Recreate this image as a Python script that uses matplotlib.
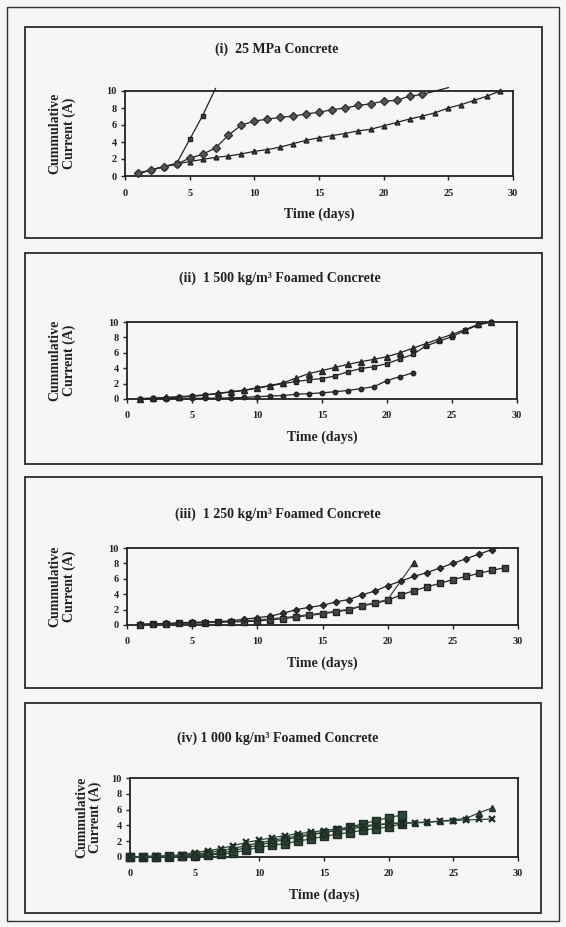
import matplotlib
matplotlib.use("Agg")
import matplotlib.pyplot as plt
from matplotlib.patches import Rectangle

# ---------------- data ----------------
titles = ["(i)  25 MPa Concrete",
          "(ii)  1 500 kg/m³ Foamed Concrete",
          "(iii)  1 250 kg/m³ Foamed Concrete",
          "(iv) 1 000 kg/m³ Foamed Concrete"]
ylabel_text = "Cummulative\nCurrent (A)"
xlabel_text = "Time (days)"
xticks = [0, 5, 10, 15, 20, 25, 30]
yticks = [0, 2, 4, 6, 8, 10]

# panel (i)
p1_days_diam = list(range(1, 26))
p1_diam = [0.3, 0.7, 1.1, 1.4, 2.1, 2.55, 3.3, 4.8, 6.0, 6.45, 6.7, 6.9, 7.05, 7.3,
           7.5, 7.8, 8.0, 8.3, 8.5, 8.8, 8.9, 9.4, 9.6, 10.0, 10.4]
p1_days_sq = [1, 2, 3, 4, 5, 6, 7]
p1_sq = [0.3, 0.7, 1.1, 1.5, 4.3, 7.1, 10.3]
p1_days_tri = list(range(1, 30))
p1_tri = [0.3, 0.7, 1.1, 1.4, 1.7, 1.95, 2.2, 2.35, 2.6, 2.9, 3.1, 3.4, 3.8, 4.2,
          4.5, 4.75, 5.0, 5.3, 5.5, 5.9, 6.3, 6.7, 7.05, 7.45, 8.0, 8.4, 8.9, 9.4, 10.0]

# panel (ii)
p2_days = list(range(1, 29))
p2_tri = [0.05, 0.1, 0.2, 0.3, 0.4, 0.55, 0.75, 0.95, 1.15, 1.45, 1.75, 2.1, 2.7, 3.3,
          3.7, 4.1, 4.5, 4.85, 5.15, 5.5, 6.0, 6.6, 7.2, 7.8, 8.4, 9.0, 9.7, 10.0]
p2_sq = [0.05, 0.1, 0.15, 0.25, 0.35, 0.5, 0.7, 0.9, 1.1, 1.4, 1.7, 2.0, 2.25, 2.5,
         2.65, 3.0, 3.55, 3.95, 4.2, 4.6, 5.2, 5.8, 6.9, 7.5, 8.1, 8.9, 9.6, 10.0]
p2_days_circ = list(range(1, 23))
p2_circ = [0.02, 0.04, 0.05, 0.07, 0.08, 0.1, 0.12, 0.15, 0.2, 0.3, 0.38, 0.45, 0.6,
           0.7, 0.8, 0.95, 1.1, 1.35, 1.6, 2.4, 2.9, 3.4]

# panel (iii)
p3_days_diam = list(range(1, 30))
p3_diam = [0.1, 0.15, 0.2, 0.3, 0.35, 0.4, 0.45, 0.55, 0.75, 0.95, 1.15, 1.55, 2.0,
           2.3, 2.55, 3.0, 3.3, 3.9, 4.4, 5.1, 5.7, 6.3, 6.8, 7.4, 8.0, 8.6, 9.2, 9.8, 10.4]
p3_days_sq = list(range(1, 30))
p3_sq = [0.05, 0.1, 0.15, 0.2, 0.25, 0.3, 0.35, 0.4, 0.45, 0.5, 0.7, 0.8, 1.05, 1.25,
         1.45, 1.7, 1.95, 2.45, 2.8, 3.2, 3.9, 4.45, 4.95, 5.4, 5.9, 6.3, 6.7, 7.1, 7.45]
p3_days_tri = list(range(1, 23))
p3_tri = [0.05, 0.1, 0.15, 0.2, 0.25, 0.3, 0.4, 0.45, 0.55, 0.65, 0.8, 0.95, 1.15,
          1.35, 1.55, 1.8, 2.05, 2.5, 2.9, 3.3, 5.7, 8.1]

# panel (iv)
p4_days_a = list(range(0, 22))
p4_sq_a = [0, 0, 0.05, 0.1, 0.15, 0.2, 0.35, 0.5, 0.8, 1.2, 1.5, 1.9, 2.2, 2.5, 2.8,
           3.1, 3.4, 3.8, 4.2, 4.6, 5.0, 5.3]
p4_days_b = list(range(0, 22))
p4_sq_b = [0, 0, 0, 0.05, 0.1, 0.15, 0.25, 0.35, 0.5, 0.9, 1.2, 1.5, 1.7, 2.0, 2.3,
           2.6, 2.9, 3.1, 3.4, 3.6, 3.8, 4.2]
p4_days_t = list(range(0, 29))
p4_tri = [0, 0.05, 0.1, 0.1, 0.2, 0.35, 0.55, 0.8, 1.1, 1.45, 1.8, 2.1, 2.4, 2.65, 2.9,
          3.1, 3.35, 3.55, 3.8, 4.0, 4.2, 4.3, 4.35, 4.45, 4.55, 4.7, 4.9, 5.6, 6.2]
p4_days_x = list(range(0, 29))
p4_x = [0, 0.05, 0.1, 0.15, 0.3, 0.55, 0.8, 1.05, 1.45, 1.85, 2.15, 2.45, 2.7, 2.95,
        3.15, 3.35, 3.55, 3.75, 3.95, 4.1, 4.25, 4.3, 4.3, 4.4, 4.5, 4.6, 4.7, 4.75, 4.8]

# ---------------- layout ----------------
W, H = 566, 927
BG = "#f6f6f4"
INK = "#222222"
GREEN = "#2f4539"
SERIF = ["Liberation Serif", "DejaVu Serif"]

fig = plt.figure(figsize=(W / 100, H / 100), dpi=100, facecolor=BG)


def fx(px):
    return px / W


def fy(py):
    return 1 - py / H


def add_axes(l, r, t, b):
    ax = fig.add_axes([fx(l), fy(b), fx(r - l), (b - t) / H])
    ax.set_facecolor("none")
    return ax


# outer page frame
fig.patches.append(Rectangle((fx(7), fy(921)), fx(552), (921 - 7) / H,
                             transform=fig.transFigure, fill=False,
                             edgecolor="#333333", linewidth=1.0))

boxes = [(25, 542, 27, 238), (25, 542, 253, 464), (25, 542, 477, 688), (25, 541, 703, 913)]
for (l, r, t, b) in boxes:
    fig.patches.append(Rectangle((fx(l), fy(b)), fx(r - l), (b - t) / H,
                                 transform=fig.transFigure, fill=False,
                                 edgecolor="#2a2a2a", linewidth=1.3))

axes_px = [(125, 513, 91, 176), (127, 517, 322, 399), (127, 518, 548, 625), (130, 518, 778, 857)]
title_y = [49, 278, 514, 738]
title_x = [277, 280, 278, 278]
ylab_x = [62, 62, 62, 89]

axs = []
for i, (l, r, t, b) in enumerate(axes_px):
    ax = add_axes(l, r, t, b)
    ax.set_xlim(0, 30)
    ax.set_ylim(0, 10)
    ax.set_xticks(xticks)
    ax.set_yticks(yticks)
    ax.tick_params(direction="out", length=3, width=1, color=INK, labelsize=7.5)
    ax.tick_params(axis="x", pad=6)
    ax.tick_params(axis="y", pad=3)
    for lab in ax.get_xticklabels() + ax.get_yticklabels():
        lab.set_fontfamily(SERIF)
        lab.set_fontweight("bold")
        lab.set_color(INK)
    for s in ax.spines.values():
        s.set_color(INK)
        s.set_linewidth(1.3)
    ax.set_xlabel(xlabel_text, fontsize=10, fontweight="bold", family=SERIF,
                  color=INK, labelpad=7)
    fig.text(fx(title_x[i]), fy(title_y[i]), titles[i], ha="center", va="center",
             fontsize=10, fontweight="bold", family=SERIF, color=INK)
    fig.text(fx(ylab_x[i]), fy((t + b) / 2), ylabel_text, ha="center", va="center",
             rotation=90, fontsize=10, fontweight="bold", family=SERIF, color=INK,
             multialignment="center", linespacing=1.05)
    axs.append(ax)

lw = 0.9
# panel (i)
ax = axs[0]
ax.plot(p1_days_sq, p1_sq, color=INK, lw=lw, marker="s", ms=3.5, mfc="#444444",
        mec=INK, markevery=list(range(6)), clip_on=False, zorder=3)
ax.plot(p1_days_tri, p1_tri, color=INK, lw=lw, marker="^", ms=3.5, mfc="#444444",
        mec=INK, clip_on=False, zorder=3)
ax.plot(p1_days_diam, p1_diam, color=INK, lw=lw, marker="D", ms=4.3, mfc="#555555",
        mec="#333333", mew=1.0, markevery=list(range(23)), clip_on=False, zorder=4)

# panel (ii)
ax = axs[1]
ax.plot(p2_days_circ, p2_circ, color=INK, lw=lw, marker="o", ms=3.2, mfc="#333333",
        mec=INK, clip_on=False, zorder=3)
ax.plot(p2_days, p2_sq, color=INK, lw=lw, marker="s", ms=3.5, mfc="#444444",
        mec=INK, clip_on=False, zorder=3)
ax.plot(p2_days, p2_tri, color=INK, lw=lw, marker="^", ms=3.8, mfc="#333333",
        mec=INK, clip_on=False, zorder=3)

# panel (iii)
ax = axs[2]
ax.plot(p3_days_sq, p3_sq, color=INK, lw=lw, marker="s", ms=3.8, mfc="#444444",
        mec=INK, clip_on=False, zorder=3)
ax.plot(p3_days_tri, p3_tri, color="#444444", lw=lw, marker="^", ms=4, mfc="#444444",
        mec=INK, markevery=[21], clip_on=False, zorder=3)
ax.plot(p3_days_diam, p3_diam, color=INK, lw=lw, marker="D", ms=3.2, mfc="#333333",
        mec=INK, markevery=list(range(28)), zorder=3)

# panel (iv)
ax = axs[3]
ax.plot(p4_days_b, p4_sq_b, color=GREEN, lw=lw, marker="s", ms=5.5, mfc=GREEN,
        mec="#1e2e26", clip_on=False, zorder=3)
ax.plot(p4_days_a, p4_sq_a, color=GREEN, lw=lw, marker="s", ms=5.5, mfc=GREEN,
        mec="#1e2e26", clip_on=False, zorder=3)
ax.plot(p4_days_t, p4_tri, color=GREEN, lw=lw, marker="^", ms=5, mfc=GREEN,
        mec="#1e2e26", clip_on=False, zorder=4)
ax.plot(p4_days_x, p4_x, color=GREEN, lw=lw, marker="x", ms=5, mew=1.6,
        mec="#1e2e26", clip_on=False, zorder=5)

fig.savefig("out.png", dpi=100, facecolor=BG)
